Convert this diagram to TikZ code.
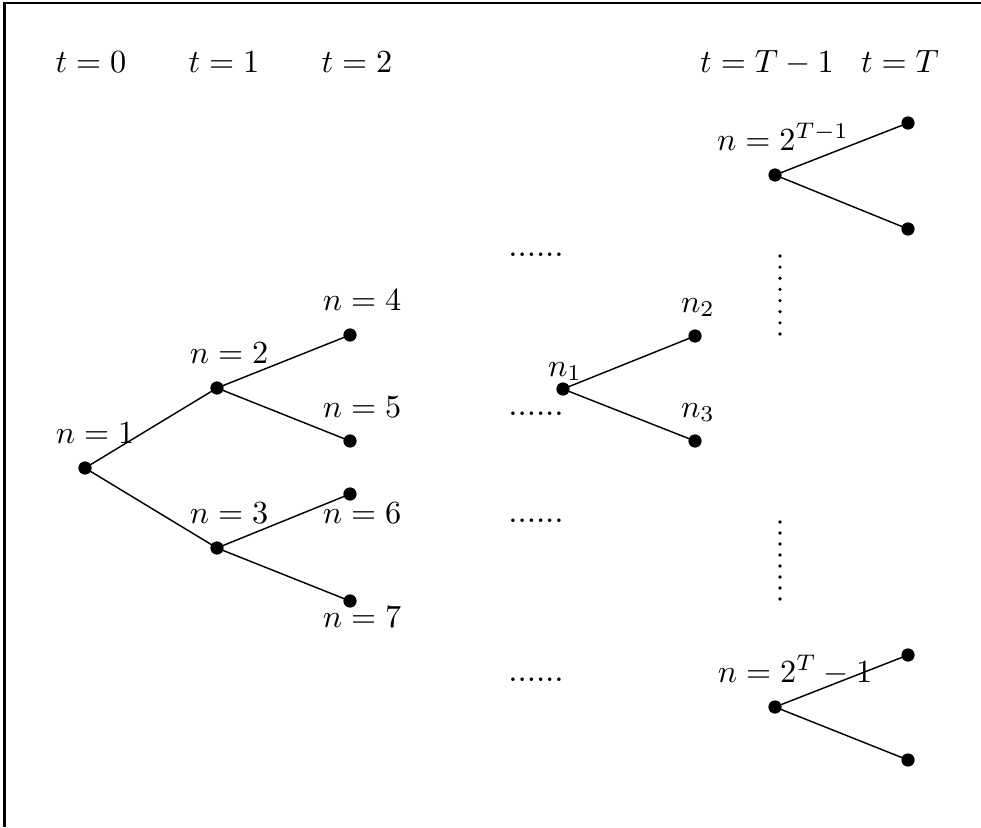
\documentclass[tikz,border=0pt]{standalone}
\begin{document}
\begin{tikzpicture}[x=0.31pt,y=-0.31pt,
  dot/.style={circle,fill=black,inner sep=0pt,minimum size=4.1pt},
  branch/.style={line width=0.45pt},
  lbl/.style={anchor=base,inner sep=0pt,font=\fontsize{10.3pt}{12pt}\selectfont},
  frame/.style={line width=0.9pt},
  vdot/.style={fill=black}]
\useasboundingbox (0,0) rectangle (981,827);

% frame (top and left edges)
\draw[frame] (4.7,827) -- (4.7,3) -- (981,3);

% time stages
\node[lbl] (t0) at (91,72) {$t=0$};
\node[lbl] (t1) at (224,72) {$t=1$};
\node[lbl] (t2) at (357,72) {$t=2$};
\node[lbl] (tTm) at (767,72) {$t=T-1$};
\node[lbl] (tT) at (900,72) {$t=T$};

% node labels
\node[lbl] (l1) at (95,443) {$n=1$};
\node[lbl] (l2) at (229,363) {$n=2$};
\node[lbl] (l3) at (229,523) {$n=3$};
\node[lbl] (l4) at (362,310) {$n=4$};
\node[lbl] (l5) at (362,417) {$n=5$};
\node[lbl] (l6) at (362,523) {$n=6$};
\node[lbl] (l7) at (362,627) {$n=7$};
\node[lbl] (ln1) at (565,376) {$n_1$};
\node[lbl] (ln2) at (698,312) {$n_2$};
\node[lbl] (ln3) at (698,417) {$n_3$};
\node[lbl] (ltop) at (783,150) {$n=2^{T-1}$};
\node[lbl] (lbot) at (795,682) {$n=2^T-1$};

% horizontal ellipses
\node[lbl] (e1) at (536,256) {......};
\node[lbl] (e2) at (536,415) {......};
\node[lbl] (e3) at (536,522) {......};
\node[lbl] (e4) at (536,681) {......};

% vertical ellipses
\foreach \k in {0,...,7} {
  \fill[vdot] (780,256+11.14*\k) circle (1.8);
  \fill[vdot] (780,522+11.0*\k) circle (1.8);
}

% tree nodes
\node[dot] (a1) at (85,468) {};
\node[dot] (a2) at (217,388) {};
\node[dot] (a3) at (217,548) {};
\node[dot] (a4) at (350,335) {};
\node[dot] (a5) at (350,441) {};
\node[dot] (a6) at (350,494) {};
\node[dot] (a7) at (350,601) {};

\node[dot] (m1) at (563,389) {};
\node[dot] (m2) at (695,336) {};
\node[dot] (m3) at (695,441) {};

\node[dot] (u0) at (775,175) {};
\node[dot] (u1) at (908,123) {};
\node[dot] (u2) at (908,229) {};

\node[dot] (d0) at (775,707) {};
\node[dot] (d1) at (908,655) {};
\node[dot] (d2) at (908,760) {};

% branches
\draw[branch] (a1.center) -- (a2.center);
\draw[branch] (a1.center) -- (a3.center);
\draw[branch] (a2.center) -- (a4.center);
\draw[branch] (a2.center) -- (a5.center);
\draw[branch] (a3.center) -- (a6.center);
\draw[branch] (a3.center) -- (a7.center);
\draw[branch] (m1.center) -- (m2.center);
\draw[branch] (m1.center) -- (m3.center);
\draw[branch] (u0.center) -- (u1.center);
\draw[branch] (u0.center) -- (u2.center);
\draw[branch] (d0.center) -- (d1.center);
\draw[branch] (d0.center) -- (d2.center);
\end{tikzpicture}
\end{document}
